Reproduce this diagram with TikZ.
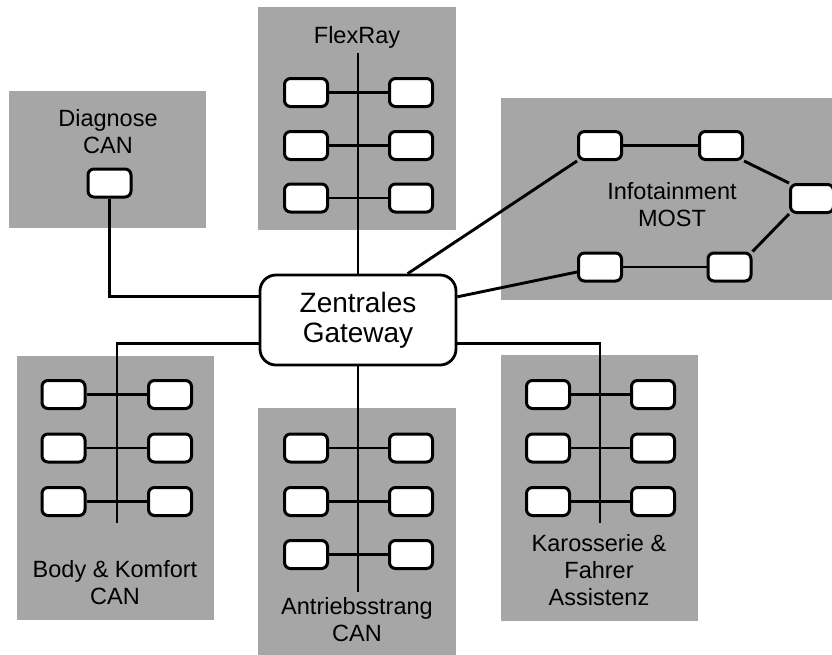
\documentclass[tikz,border=0pt]{standalone}
\usepackage{fontspec}
\setmainfont{Liberation Sans}
\usetikzlibrary{calc}
\definecolor{zonegray}{RGB}{166,166,166}
\pgfdeclarelayer{zones}
\pgfdeclarelayer{wires}
\pgfsetlayers{zones,wires,main}

\begin{document}
\begin{tikzpicture}[x=1pt,y=-1pt,
  ecu/.style={draw,fill=white,line width=3pt,rounded corners=6pt,
    minimum width=43pt,minimum height=28pt,inner sep=0pt},
  zone/.style={fill=zonegray},
  wire/.style={line width=2.9pt},
  lbl/.style={font=\fontsize{23.5}{27}\selectfont,align=center,inner sep=0pt},
  gateway/.style={draw,fill=white,line width=2.8pt,rounded corners=16pt,
    minimum width=196pt,minimum height=90pt,align=center,
    font=\fontsize{28}{30}\selectfont}]

\useasboundingbox (0,0) rectangle (832,654);

% bus domains
\begin{pgfonlayer}{zones}
  \fill[zone] (9,91) rectangle (206,228);     % Diagnose
  \fill[zone] (258,7) rectangle (456,230);    % FlexRay
  \fill[zone] (501,98) rectangle (840,300);   % Infotainment
  \fill[zone] (17,356) rectangle (214,620);   % Body & Komfort
  \fill[zone] (258,408) rectangle (456,660);  % Antriebsstrang
  \fill[zone] (501,355) rectangle (698,621);  % Karosserie
\end{pgfonlayer}

% central gateway
\node[gateway] (gw) at (358,320) {Zentrales\\Gateway};
\coordinate (gwL1) at ($(gw.north west)!0.25!(gw.south west)$);
\coordinate (gwL2) at ($(gw.north west)!0.75!(gw.south west)$);
\coordinate (gwR1) at ($(gw.north east)!0.25!(gw.south east)$);
\coordinate (gwR2) at ($(gw.north east)!0.75!(gw.south east)$);
\coordinate (gwT)  at ($(gw.north west)!0.75!(gw.north east)$);

% Diagnose CAN
\node[ecu] (dg) at (109.5,183) {};
\node[lbl] (dgLbl) at (108,132) {Diagnose\\CAN};

% FlexRay
\foreach \i/\y in {1/92.5,2/145.5,3/198}{
  \node[ecu] (frL\i) at (306,\y) {};
  \node[ecu] (frR\i) at (411,\y) {};
}
\coordinate (frTop) at (358,53);
\node[lbl] (frLbl) at (357,37) {FlexRay};

% Antriebsstrang CAN
\foreach \i/\y in {1/448,2/501.5,3/554.5}{
  \node[ecu] (atL\i) at (306,\y) {};
  \node[ecu] (atR\i) at (411,\y) {};
}
\coordinate (atEnd) at (358,592);
\node[lbl] (atLbl) at (357,620) {Antriebsstrang\\CAN};

% Body & Komfort CAN
\foreach \i/\y in {1/394.5,2/448,3/501.5}{
  \node[ecu] (bkL\i) at (63.5,\y) {};
  \node[ecu] (bkR\i) at (170,\y) {};
}
\coordinate (bkEnd) at (117,523);
\node[lbl] (bkLbl) at (115,583) {Body \& Komfort\\CAN};

% Karosserie & Fahrer Assistenz
\foreach \i/\y in {1/394.5,2/448,3/501.5}{
  \node[ecu] (kfL\i) at (548,\y) {};
  \node[ecu] (kfR\i) at (653,\y) {};
}
\coordinate (kfEnd) at (600,523);
\node[lbl] (kfLbl) at (599,570) {Karosserie \&\\Fahrer\\Assistenz};

% Infotainment MOST ring
\node[ecu] (if1) at (600,145.5) {};
\node[ecu] (if2) at (721,145.5) {};
\node[ecu] (if3) at (812,198.5) {};
\node[ecu] (if4) at (600,267) {};
\node[ecu] (if5) at (729.5,267) {};
\coordinate (if4in) at ($(if4.west)+(0,5)$);
\node[lbl] (ifLbl) at (672,205) {Infotainment\\MOST};

% wiring
\begin{pgfonlayer}{wires}
  \draw[wire] (dg.south) |- (gwL1);
  \draw[wire] (frTop) -- (gw.north);
  \draw[wire] (gw.south) -- (atEnd);
  \draw[wire] (gwL2) -| (bkEnd);
  \draw[wire] (gwR2) -| (kfEnd);
  \foreach \i in {1,2,3}{
    \draw[wire] (frL\i.east) -- (frR\i.west);
    \draw[wire] (atL\i.east) -- (atR\i.west);
    \draw[wire] (bkL\i.east) -- (bkR\i.west);
    \draw[wire] (kfL\i.east) -- (kfR\i.west);
  }
  \draw[wire] (gwT) -- (if1.south west);
  \draw[wire] (gwR1) -- (if4in);
  \draw[wire] (if1.east) -- (if2.west);
  \draw[wire] (if2.south east) -- (if3.north west);
  \draw[wire] (if3.south west) -- (if5.north east);
  \draw[wire] (if5.west) -- (if4.east);
\end{pgfonlayer}
\end{tikzpicture}
\end{document}
